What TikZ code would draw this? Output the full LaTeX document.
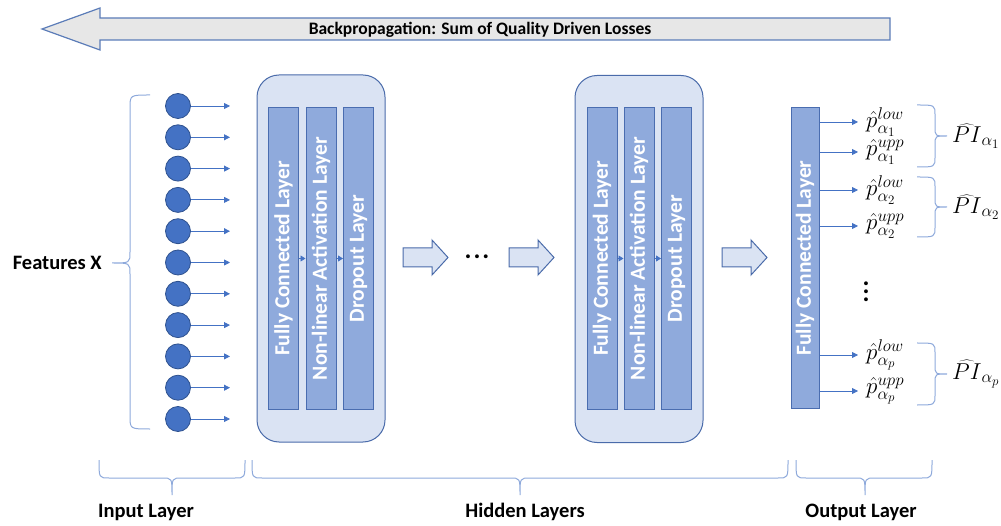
\RequirePackage{fix-cm}
\documentclass[tikz,border=0pt]{standalone}
\usepackage{fontspec}
\setmainfont{Carlito}
\usetikzlibrary{arrows.meta}
\DeclareMathSizes{23}{23}{17}{13}
\definecolor{circfill}{HTML}{4472C4}
\definecolor{circdraw}{HTML}{2F528F}
\definecolor{colfill}{HTML}{8FAADC}
\definecolor{coldraw}{HTML}{4A6DB0}
\definecolor{boxfill}{HTML}{DAE3F3}
\definecolor{boxdraw}{HTML}{4A6BAA}
\definecolor{topfill}{HTML}{E7E7E7}
\definecolor{topdraw}{HTML}{5B7CB8}
\definecolor{conncol}{HTML}{4472C4}
\definecolor{bracecol}{HTML}{8EA9DB}
\newcommand{\myhbrace}[3]{%
  \draw[bracestyle] (#1,460) .. controls (#1,478) .. (#1+10,478) -- (#3-10,478)
    .. controls (#3,478) .. (#3,495) .. controls (#3,478) .. (#3+10,478)
    -- (#2-10,478) .. controls (#2,478) .. (#2,460);}
\newcommand{\myvbrace}[3]{%
  \draw[bracestyle] (917,#1) .. controls (935,#1) .. (935,#1+10) -- (935,#3-9)
    .. controls (935,#3) .. (947,#3) .. controls (935,#3) .. (935,#3+9)
    -- (935,#2-10) .. controls (935,#2) .. (917,#2);}
\begin{document}
\begin{tikzpicture}[x=1pt,y=-1pt,
  neuron/.style={circle,minimum size=25pt,inner sep=0pt,fill=circfill,draw=circdraw,line width=0.8pt},
  conn/.style={draw=conncol,line width=0.8pt,-{Triangle[length=6pt,width=6pt]}},
  smallconn/.style={draw=conncol,line width=0.8pt,-{Triangle[length=5pt,width=6pt]}},
  hbox/.style={rectangle,rounded corners=22pt,fill=boxfill,draw=boxdraw,line width=1pt,minimum width=128pt,minimum height=367pt,inner sep=0pt},
  colbox/.style={rectangle,fill=colfill,draw=coldraw,line width=1pt,minimum width=30pt,minimum height=301pt,inner sep=0pt},
  coltext/.style={rotate=90,text=white,font=\fontsize{21.5}{24}\selectfont\bfseries,inner sep=0pt},
  blockarrow/.style={fill=boxfill,draw=boxdraw,line width=1pt,line join=miter},
  bracestyle/.style={draw=bracecol,line width=1pt},
  lbl/.style={font=\fontsize{20.5}{24}\selectfont\bfseries,text=black},
  plabel/.style={anchor=west,inner xsep=8pt,inner ysep=0pt,font=\fontsize{23}{26}\selectfont},
  pilabel/.style={anchor=west,inner sep=0pt,font=\fontsize{23}{26}\selectfont}
]
\useasboundingbox (0,0) rectangle (1001,526);

% top backpropagation arrow
\draw[fill=topfill,draw=topdraw,line width=1.2pt,line join=miter]
  (42,29) -- (100,8) -- (100,18) -- (890,18) -- (890,40) -- (100,40) -- (100,50) -- cycle;
\node[font=\fontsize{17.5}{20}\selectfont\bfseries] (bp) at (480,30) {Backpropagation: Sum of Quality Driven Losses};

% input neurons
\foreach \i in {0,...,10}{
  \pgfmathsetmacro{\yy}{106+31.3*\i}
  \node[neuron] (n\i) at (178,\yy) {};
  \coordinate (t\i) at (230,\yy);
  \draw[conn] (n\i) -- (t\i);
}

% features brace
\draw[bracestyle] (150,95) .. controls (130,95) .. (130,108) -- (130,252)
  .. controls (130,263) .. (112,263) .. controls (130,263) .. (130,274)
  -- (130,416) .. controls (130,429) .. (150,429);
\node[lbl,anchor=east,inner sep=0pt] (feat) at (102,263) {Features X};

% hidden block 1
\node[hbox] (box1) at (321,258.5) {};
\node[colbox] (a1) at (283.5,258.5) {};
\node[colbox] (a2) at (321,258.5) {};
\node[colbox] (a3) at (358.5,258.5) {};
\node[coltext] (a1t) at (a1) {Fully Connected Layer};
\node[coltext] (a2t) at (a2) {Non-linear Activation Layer};
\node[coltext] (a3t) at (a3) {Dropout Layer};
\draw[smallconn] (a1.east) -- (a2.west);
\draw[smallconn] (a2.east) -- (a3.west);

% hidden block 2
\node[hbox] (box2) at (639,259) {};
\node[colbox] (b1) at (602,258.5) {};
\node[colbox] (b2) at (639,258.5) {};
\node[colbox] (b3) at (676.5,258.5) {};
\node[coltext] (b1t) at (b1) {Fully Connected Layer};
\node[coltext] (b2t) at (b2) {Non-linear Activation Layer};
\node[coltext] (b3t) at (b3) {Dropout Layer};
\draw[smallconn] (b1.east) -- (b2.west);
\draw[smallconn] (b2.east) -- (b3.west);

% block arrows
\foreach \x in {403,509,722}{
  \draw[blockarrow] (\x,248) -- (\x+29,248) -- (\x+29,240) -- (\x+45,257.5)
    -- (\x+29,275) -- (\x+29,267) -- (\x,267) -- cycle;
}
\node[font=\fontsize{26}{26}\selectfont\bfseries,inner sep=0pt] (dots) at (477,257) {.\kern2pt.\kern2pt.};

% output column
\node[colbox,minimum width=28pt,minimum height=300pt] (outc) at (805,258) {};
\node[coltext] (outct) at (outc) {Fully Connected Layer};

% output labels
\node[plabel] (l1) at (858,122) {$\hat{p}^{low}_{\alpha_1}$};
\node[plabel] (l2) at (858,152) {$\hat{p}^{upp}_{\alpha_1}$};
\node[plabel] (l3) at (858,190) {$\hat{p}^{low}_{\alpha_2}$};
\node[plabel] (l4) at (858,226) {$\hat{p}^{upp}_{\alpha_2}$};
\node[plabel] (l5) at (858,355) {$\hat{p}^{low}_{\alpha_p}$};
\node[plabel] (l6) at (858,391) {$\hat{p}^{upp}_{\alpha_p}$};
\foreach \k in {1,...,6}{
  \draw[conn] (outc.east |- l\k.west) -- (l\k.west);
}
\node[font=\fontsize{26}{8}\selectfont\bfseries,align=center,inner sep=0pt] (vd) at (866,292) {.\\.\\.};

% right braces and PI labels
\myvbrace{105}{167}{136}
\myvbrace{177}{237}{207}
\myvbrace{343}{405}{374}
\node[pilabel] (pi1) at (952,136) {$\widehat{PI}_{\alpha_1}$};
\node[pilabel] (pi2) at (952,207) {$\widehat{PI}_{\alpha_2}$};
\node[pilabel] (pi3) at (952,374) {$\widehat{PI}_{\alpha_p}$};

% bottom braces
\myhbrace{99}{245}{172}
\myhbrace{252}{788}{520}
\myhbrace{796}{932}{865}
\node[lbl] (inl) at (146,512) {Input Layer};
\node[lbl] (hidl) at (525,512) {Hidden Layers};
\node[lbl] (outl) at (861,512) {Output Layer};
\end{tikzpicture}
\end{document}
